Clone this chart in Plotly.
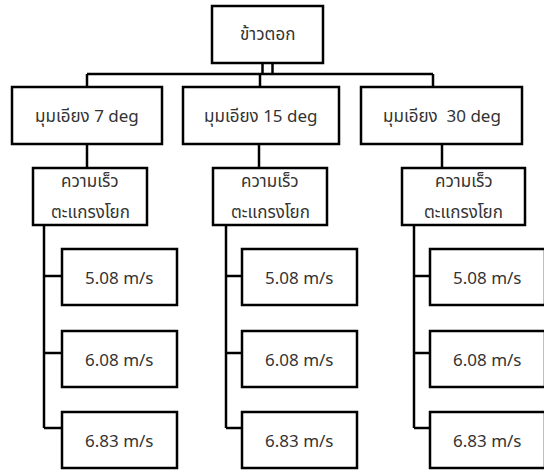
import plotly.graph_objects as go

# ---- data (labels of the tree) ----
root_label = "ข้าวตอก"
angle_labels = ["มุมเอียง 7 deg", "มุมเอียง 15 deg", "มุมเอียง  30 deg"]
factor_lines = ["ความเร็ว", "ตะแกรงโยก"]
speed_labels = ["5.08 m/s", "6.08 m/s", "6.83 m/s"]

# ---- layout constants (pixel-like coordinates on hidden axes) ----
W, H = 544, 470
ROOT_BOX = (212, 323, 6, 63)
ANG_X0 = [12, 183, 361]
ANG_X1 = [162, 339, 522]
ANG_Y = (87, 144)
BUS_Y = 74
BUS_X = [87, 260, 433]
ANG_DROP_X = [87, 259, 442]
FAC_X0 = [33, 213, 402]
FAC_X1 = [147, 327, 525]
FAC_Y = (168, 225)
SPINE_X = [44, 226, 414]
LEAF_X0 = [62, 242, 430]
LEAF_W = 115
LEAF_Y0 = [249, 331, 412]
LEAF_H = 56
TICK_Y = [276, 353, 428]

LW = 2.5
FONT = dict(family="'Noto Sans', 'Noto Sans Thai', sans-serif", size=17, color="#333")

shapes = []
annotations = []


def box(x0, x1, y0, y1):
    shapes.append(dict(type="rect", xref="x", yref="y", x0=x0, x1=x1, y0=y0, y1=y1,
                       line=dict(color="black", width=LW), fillcolor="white", layer="below"))


def line(x0, y0, x1, y1):
    shapes.append(dict(type="line", xref="x", yref="y", x0=x0, x1=x1, y0=y0, y1=y1,
                       line=dict(color="black", width=LW), layer="below"))


def text(x, y, s):
    annotations.append(dict(x=x, y=y, xref="x", yref="y", text=s, showarrow=False,
                            font=FONT, xanchor="center", yanchor="middle"))

# connectors first
rx0, rx1, ry0, ry1 = ROOT_BOX
rc = (rx0 + rx1) / 2
line(rc - 5, ry1, rc - 5, BUS_Y)
line(rc + 5, ry1, rc + 5, BUS_Y)
line(BUS_X[0], BUS_Y, BUS_X[-1], BUS_Y)
for bx in BUS_X:
    line(bx, BUS_Y, bx, ANG_Y[0])
for i in range(len(angle_labels)):
    line(ANG_DROP_X[i], ANG_Y[1], ANG_DROP_X[i], FAC_Y[0])
    line(SPINE_X[i], FAC_Y[1], SPINE_X[i], TICK_Y[-1])
    for j in range(len(speed_labels)):
        line(SPINE_X[i], TICK_Y[j], LEAF_X0[i], TICK_Y[j])

# boxes
box(*ROOT_BOX)
text(rc, (ry0 + ry1) / 2 - 1, root_label)
for i, lab in enumerate(angle_labels):
    box(ANG_X0[i], ANG_X1[i], *ANG_Y)
    text((ANG_X0[i] + ANG_X1[i]) / 2, sum(ANG_Y) / 2, lab)
    box(FAC_X0[i], FAC_X1[i], *FAC_Y)
    fc = (FAC_X0[i] + FAC_X1[i]) / 2
    text(fc, FAC_Y[0] + 12, factor_lines[0])
    text(fc, FAC_Y[0] + 43, factor_lines[1])
    for j, sp in enumerate(speed_labels):
        y0 = LEAF_Y0[j]
        box(LEAF_X0[i], LEAF_X0[i] + LEAF_W, y0, y0 + LEAF_H)
        text(LEAF_X0[i] + LEAF_W / 2, y0 + LEAF_H / 2, sp)

fig = go.Figure()
fig.add_trace(go.Scatter(x=[0, W], y=[0, H], mode="markers", marker=dict(opacity=0),
                         hoverinfo="skip", showlegend=False))
fig.update_layout(
    width=W, height=H, margin=dict(l=0, r=0, t=0, b=0),
    paper_bgcolor="white", plot_bgcolor="white",
    xaxis=dict(range=[0, W], visible=False, fixedrange=True),
    yaxis=dict(range=[H, 0], visible=False, fixedrange=True),
    shapes=shapes, annotations=annotations, showlegend=False,
)
fig.write_html("out.html", config={"displayModeBar": False},
               post_script="document.body.style.margin='0';document.body.style.overflow='hidden';")
